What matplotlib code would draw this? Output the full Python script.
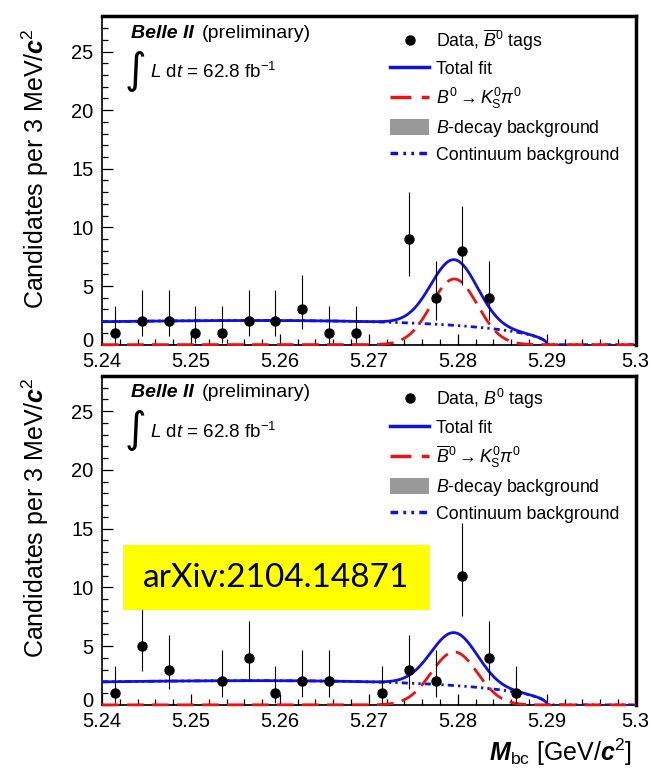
import numpy as np
import matplotlib
matplotlib.use("Agg")
import matplotlib.pyplot as plt
from matplotlib.lines import Line2D
from matplotlib.patches import Patch, Rectangle
from matplotlib.ticker import MultipleLocator
from matplotlib.transforms import ScaledTranslation

plt.rcParams['font.family'] = ['Liberation Sans', 'DejaVu Sans']
plt.rcParams['mathtext.fontset'] = 'custom'
plt.rcParams['mathtext.rm'] = 'Liberation Sans'
plt.rcParams['mathtext.it'] = 'Liberation Sans:italic'
plt.rcParams['mathtext.bf'] = 'Liberation Sans:bold'
plt.rcParams['mathtext.bfit'] = 'Liberation Sans:italic:bold'

# --- data (3 MeV bins, empty bins not drawn) ---
x_top = [5.2415, 5.2445, 5.2475, 5.2505, 5.2535, 5.2565, 5.2595, 5.2625,
         5.2655, 5.2685, 5.2745, 5.2775, 5.2805, 5.2835]
n_top = [1, 2, 2, 1, 1, 2, 2, 3, 1, 1, 9, 4, 8, 4]
elo_top = [0.83, 1.29, 1.29, 0.83, 0.83, 1.29, 1.29, 1.63, 0.83, 0.83, 3.11, 1.91, 2.91, 1.91]
ehi_top = [2.30, 2.64, 2.64, 2.30, 2.30, 2.64, 2.64, 2.92, 2.30, 2.30, 4.00, 3.16, 3.84, 3.16]

x_bot = [5.2415, 5.2445, 5.2475, 5.2535, 5.2565, 5.2595, 5.2625, 5.2655,
         5.2715, 5.2745, 5.2775, 5.2805, 5.2835, 5.2865]
n_bot = [1, 5, 3, 2, 4, 1, 2, 2, 1, 3, 2, 11, 4, 1]
elo_bot = [0.83, 2.16, 1.63, 1.29, 1.91, 0.83, 1.29, 1.29, 0.83, 1.63, 1.29, 3.40, 1.91, 0.83]
ehi_bot = [2.30, 3.38, 2.92, 2.64, 3.16, 2.30, 2.64, 2.64, 2.30, 2.92, 2.64, 4.47, 3.16, 2.30]

# fit shape parameters (estimated from the curves)
m0 = 5.29            # ARGUS endpoint
argus_c = -40.0
cont_level = 2.0     # continuum plateau height
sig_mean = 5.2796
sig_sigma = 0.0026
sig_peak_top = 5.6
sig_peak_bot = 4.5
bbkg_level = 0.06

xticks = [5.24, 5.25, 5.26, 5.27, 5.28, 5.29, 5.30]
xtick_labels = ["5.24", "5.25", "5.26", "5.27", "5.28", "5.29", "5.3"]
yticks = [0, 5, 10, 15, 20, 25]


def argus(m):
    y = np.clip(1 - (m / m0) ** 2, 0, None)
    return m * np.sqrt(y) * np.exp(argus_c * y)


m = np.linspace(5.24, 5.30, 1200)
cont_shape = argus(m)
cont_shape = cont_level * cont_shape / cont_shape.max()
bbkg = np.where(m < m0, bbkg_level, 0.0)


def panel(ax, x, n, elo, ehi, sig_peak, data_label, sig_label, ylab_y):
    sig = sig_peak * np.exp(-0.5 * ((m - sig_mean) / sig_sigma) ** 2)
    cont = cont_shape + bbkg
    total = cont + sig

    ax.fill_between(m, 0, bbkg, color='#888888', lw=0, zorder=1)
    tot_mask = m <= m0 + 0.0002
    ax.plot(m[tot_mask], total[tot_mask], color='#1010e0', lw=2.0, zorder=3)
    ax.plot(m, cont, color='#1010e0', lw=2.0,
            linestyle=(0, (2.2, 1.5, 0.8, 1.5, 0.8, 1.5)), zorder=4)
    ax.plot(m, sig, color='#ee1111', lw=2.0, linestyle=(0, (6, 3)), zorder=5,
            clip_on=False)

    ax.errorbar(x, n, yerr=[elo, ehi], fmt='o', color='black', ms=6.5,
                elinewidth=0.8, capsize=0, zorder=6)

    ax.set_xlim(5.24, 5.30)
    ax.set_ylim(0, 28)
    ax.set_xticks(xticks)
    ax.set_xticklabels(xtick_labels)
    ax.set_yticks(yticks)
    ax.xaxis.set_minor_locator(MultipleLocator(0.002))
    ax.yaxis.set_minor_locator(MultipleLocator(1))
    ax.tick_params(which='both', direction='in', top=False, right=False,
                   labelsize=14.5, width=0.9)
    ax.tick_params(which='major', length=8)
    ax.tick_params(which='minor', length=4)
    ax.tick_params(axis='x', pad=5)
    ax.tick_params(axis='y', pad=6)
    for s in ['left', 'bottom']:
        ax.spines[s].set_linewidth(1.2)
    for s in ['top', 'right']:
        ax.spines[s].set_linewidth(2.5)
    # lift the "0" label a little so it clears the x labels
    lab0 = ax.get_yticklabels()[0]
    lab0.set_transform(lab0.get_transform() +
                       ScaledTranslation(0, 4 / 72, ax.figure.dpi_scale_trans))

    ax.text(-0.125, ylab_y, r"Candidates per 3 MeV/$\mathbfit{c}^2$",
            transform=ax.transAxes, rotation=90, ha='center', va='top',
            fontsize=18)

    ax.text(0.054, 0.948, "Belle II", transform=ax.transAxes, fontsize=14,
            fontweight='bold', style='italic', va='center', ha='left')
    ax.text(0.187, 0.948, "(preliminary)", transform=ax.transAxes,
            fontsize=14, va='center', ha='left')
    ax.text(0.042, 0.835, "\u222b", transform=ax.transAxes,
            fontsize=30, va='center', ha='left', family='DejaVu Sans')
    ax.text(0.09, 0.83, r"$L$ d$t$ = 62.8 fb$^{\mathregular{-1}}$",
            transform=ax.transAxes, fontsize=13.5, va='center', ha='left')

    handles = [
        Line2D([], [], marker='o', color='black', ls='none', ms=6.5),
        Line2D([], [], color='#1010e0', lw=2.5),
        Line2D([], [], color='#ee1111', lw=2.5, linestyle=(0, (6, 3))),
        Patch(facecolor='#999999', edgecolor='none'),
        Line2D([], [], color='#1010e0', lw=2.5,
               linestyle=(0, (2.2, 1.5, 0.8, 1.5, 0.8, 1.5))),
    ]
    labels = [data_label, "Total fit", sig_label, r"$B$-decay background",
              "Continuum background"]
    ax.legend(handles, labels, loc='upper left', bbox_to_anchor=(0.54, 0.965),
              frameon=False, fontsize=12.8, handlelength=2.2,
              handletextpad=0.4, labelspacing=0.4, borderpad=0,
              borderaxespad=0, handleheight=1.0)


fig = plt.figure(figsize=(6.54, 7.78), dpi=100)
ax1 = fig.add_axes([0.156, 0.557, 0.816, 0.422])
ax2 = fig.add_axes([0.156, 0.094, 0.816, 0.423])

panel(ax1, x_top, n_top, elo_top, ehi_top, sig_peak_top,
      r"Data, $\overline{B}^{\mathregular{0}}$ tags",
      r"$B^{\mathregular{0}}\rightarrow K^{\mathregular{0}}_{\mathregular{S}}\pi^{\mathregular{0}}$",
      0.965)
panel(ax2, x_bot, n_bot, elo_bot, ehi_bot, sig_peak_bot,
      r"Data, $B^{\mathregular{0}}$ tags",
      r"$\overline{B}^{\mathregular{0}}\rightarrow K^{\mathregular{0}}_{\mathregular{S}}\pi^{\mathregular{0}}$",
      0.995)

ax2.text(0.993, -0.143, r"$\mathbfit{M}_{\mathregular{bc}}$ [GeV/$\mathbfit{c}^{\mathregular{2}}$]",
         transform=ax2.transAxes, ha='right', va='center', fontsize=18)

# yellow arXiv label
fig.patches.append(Rectangle((0.188, 0.216), 0.469, 0.0835, transform=fig.transFigure,
                             facecolor='#ffff00', edgecolor='none', zorder=10))
fig.text(0.4225, 0.2575, "arXiv:2104.14871", ha='center', va='center',
         fontsize=24, family='Lato', zorder=11)

fig.savefig("out.png", dpi=100, facecolor='white')
